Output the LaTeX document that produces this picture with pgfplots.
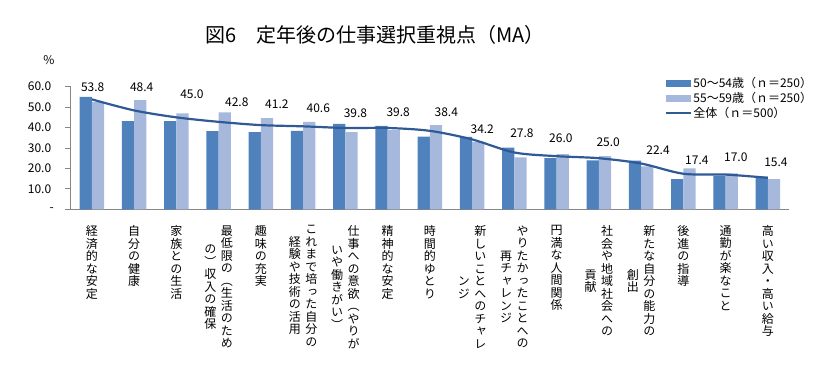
\documentclass[border=0pt]{standalone}
\usepackage{pgfplots}
\pgfplotsset{compat=1.18}
\usepackage{pgfplotstable}
\usepackage{fontspec}
\setmainfont{Noto Sans CJK JP}
\newfontfamily\vjp[RawFeature=+vert]{Noto Sans CJK JP}
\definecolor{darkbar}{HTML}{4F81BD}
\definecolor{lightbar}{HTML}{A6B9DD}
\definecolor{lineblue}{HTML}{2F5A96}
\definecolor{axisgray}{HTML}{868686}

\ExplSyntaxOn
\dim_new:N \l_vl_dim
\cs_new_protected:Npn \vl_column:n #1
  {
    \vtop
      {
        \baselineskip=12.5pt \lineskiplimit=-100pt \lineskip=0pt
        \tl_map_inline:nn {#1} { \hbox to 12.5pt { \hss ##1 \hss } }
      }
  }
\NewDocumentCommand \vlabel { m o }
  {
    \hbox
      {
        \IfValueT {#2}
          {
            \dim_set:Nn \l_vl_dim { 6.25pt * ( \tl_count:n {#1} - \tl_count:n {#2} ) }
            \lower \l_vl_dim \hbox { \vl_column:n {#2} }
            \kern 4pt
          }
        \vl_column:n {#1}
      }
  }
\ExplSyntaxOff

\pgfplotstableread{
x a b t
0 55.0 52.6 53.8
1 43.2 53.4 48.4
2 43.2 47.0 45.0
3 38.2 47.4 42.8
4 37.8 44.6 41.2
5 38.4 42.8 40.6
6 41.8 37.8 39.8
7 40.8 38.8 39.8
8 35.6 41.2 38.4
9 35.4 33.0 34.2
10 30.2 25.4 27.8
11 25.0 27.0 26.0
12 24.0 26.0 25.0
13 23.8 21.0 22.4
14 14.8 20.0 17.4
15 16.4 17.6 17.0
16 16.0 14.8 15.4
}\datatable

\pgfplotstableread{
x y lab
0.02 59.8 53.8
1.18 59.7 48.4
2.37 56.2 45.0
3.43 52.5 42.8
4.38 51.4 41.2
5.36 49.4 40.6
6.24 47.0 39.8
7.25 47.5 39.8
8.39 47.5 38.4
9.24 39.2 34.2
10.18 37.2 27.8
11.10 34.8 26.0
12.22 32.9 25.0
13.40 29.0 22.4
14.32 24.1 17.4
15.24 25.5 17.0
16.19 23.1 15.4
}\labtable

\begin{document}
\begin{tikzpicture}
\path[use as bounding box] (0pt,0pt) rectangle (826pt,366pt);
\node[font=\fontsize{20}{22}\selectfont, anchor=west, inner sep=0pt] at (205pt,331pt) {図6　定年後の仕事選択重視点（MA）};
\node[font=\fontsize{12}{13}\selectfont] at (49pt,306pt) {\%};
\begin{axis}[
  at={(70.7pt,156.7pt)}, anchor=south west,
  scale only axis, width=718.3pt, height=122.6pt,
  xmin=-0.5, xmax=16.5, ymin=0, ymax=60,
  axis x line*=bottom, axis y line*=left,
  axis line style={axisgray, line width=0.8pt},
  every tick/.style={axisgray, line width=0.8pt},
  tick align=outside,
  ytick={0,10,20,30,40,50,60},
  yticklabels={\makebox[0pt][r]{-\kern-2.5pt},10.0,20.0,30.0,40.0,50.0,60.0},
  yticklabel style={font=\fontsize{12}{13}\selectfont, anchor=east, xshift=-10pt},
  major tick length=6pt,
  xtick={0,...,16},
  x tick style={draw=none},
  minor xtick={-0.5,0.5,...,16.5},
  minor x tick style={axisgray, line width=0.8pt},
  minor tick length=4pt,
  xticklabels={
    {\vlabel{経済的な安定}},
    {\vlabel{自分の健康}},
    {\vlabel{家族との生活}},
    {\vlabel{最低限の︵生活のため}[の︶収入の確保]},
    {\vlabel{趣味の充実}},
    {\vlabel{これまで培った自分の}[経験や技術の活用]},
    {\vlabel{仕事への意欲︵やりが}[いや働きがい︶]},
    {\vlabel{精神的な安定}},
    {\vlabel{時間的ゆとり}},
    {\vlabel{新しいことへのチャレ}[ンジ]},
    {\vlabel{やりたかったことへの}[再チャレンジ]},
    {\vlabel{円満な人間関係}},
    {\vlabel{社会や地域社会への}[貢献]},
    {\vlabel{新たな自分の能力の}[創出]},
    {\vlabel{後進の指導}},
    {\vlabel{通勤が楽なこと}},
    {\vlabel{高い収入・高い給与}}},
  xticklabel style={anchor=north, inner sep=0pt, yshift=-10pt,
    font=\vjp\fontsize{12}{12.5}\selectfont},
  legend style={at={(0.827,1.09)}, anchor=north west, draw=none, fill=none,
    font=\fontsize{12}{13}\selectfont, inner sep=0pt, row sep=0pt,
    nodes={inner sep=1.5pt}, cells={anchor=west}},
]
\addplot[ybar, bar width=12.3pt, bar shift=-6.15pt, fill=darkbar, draw=none,
  legend image code/.code={\fill[darkbar] (0pt,-3.5pt) rectangle (25pt,3.5pt);}]
  table[x=x,y=a] {\datatable};
\addlegendentry{50～54歳（ｎ＝250）}
\addplot[ybar, bar width=12.3pt, bar shift=6.15pt, fill=lightbar, draw=none,
  legend image code/.code={\fill[lightbar] (0pt,-3.5pt) rectangle (25pt,3.5pt);}]
  table[x=x,y=b] {\datatable};
\addlegendentry{55～59歳（ｎ＝250）}
\addplot[lineblue, line width=2.2pt, smooth, mark=none,
  legend image code/.code={\draw[lineblue, line width=2pt] (0pt,0pt) -- (25pt,0pt);}]
  table[x=x,y=t] {\datatable};
\addlegendentry{全体（ｎ＝500）}
\addplot[only marks, mark=*, mark size=0pt, mark options={draw=none, fill=none},
  nodes near coords, point meta=explicit symbolic,
  every node near coord/.append style={anchor=center, text=black,
    font=\fontsize{12}{13}\selectfont},
  forget plot]
  table[x=x,y=y,meta=lab] {\labtable};
\end{axis}
\end{tikzpicture}
\end{document}
